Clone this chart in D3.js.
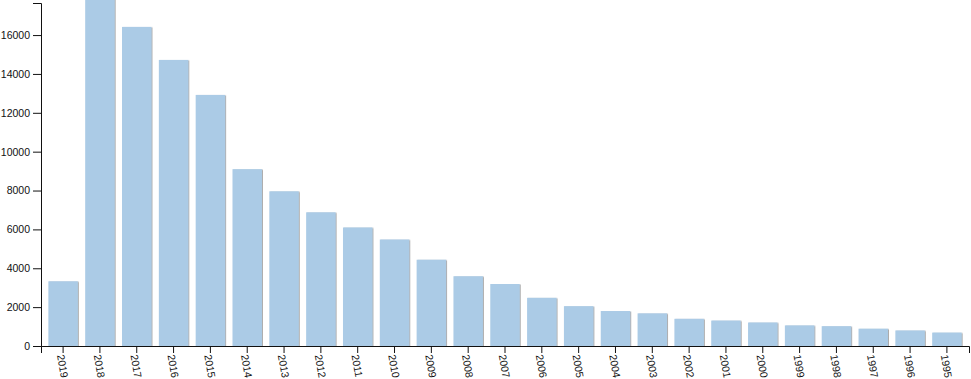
<!DOCTYPE html>
<html>
<head>
	<meta charset="utf-8">
	<script src="https://d3js.org/d3.v7.min.js"></script>
	<style>
		body { margin: 0; background: #fff; }
		.axis text { font-family: "Liberation Sans", Arial, Helvetica, sans-serif; font-size: 10.5px; fill: #111; }
		.axis path, .axis line { stroke: #111; }
	</style>
</head>
<body>
	<svg id="chart" width="971" height="379"></svg>
	<script>

	// years and counts
	const years = ["2019","2018","2017","2016","2015","2014","2013","2012","2011","2010",
	               "2009","2008","2007","2006","2005","2004","2003","2002","2001","2000",
	               "1999","1998","1997","1996","1995"];
	const counts = [3330, 17900, 16420, 14720, 12920, 9100, 7960, 6880, 6100, 5480,
	                4440, 3590, 3190, 2480, 2050, 1800, 1680, 1400, 1310, 1210,
	                1060, 1020, 890, 800, 690];
	const yMax = 17650;

	const data = years.map((y, i) => ({year: y, value: counts[i]}));

	const svg = d3.select("#chart");
	const margin = {top: 3, right: 2, bottom: 33, left: 41};
	const width = +svg.attr("width") - margin.left - margin.right,
	      height = +svg.attr("height") - margin.top - margin.bottom;

	const defs = svg.append("defs");
	const f = defs.append("filter").attr("id", "shadow")
	    .attr("x", "-10%").attr("y", "-10%").attr("width", "130%").attr("height", "130%");
	f.append("feDropShadow")
	    .attr("dx", 1).attr("dy", 0.5).attr("stdDeviation", 0.6)
	    .attr("flood-color", "#555").attr("flood-opacity", 0.5);

	const g = svg.append("g").attr("transform", `translate(${margin.left},${margin.top})`);

	const x = d3.scaleBand()
	    .domain(years)
	    .range([0, width])
	    .padding(0.2);

	const y = d3.scaleLinear()
	    .domain([0, yMax])
	    .range([height, 0]);

	// bars
	g.selectAll("rect.bar")
	  .data(data)
	  .join("rect")
	    .attr("class", "bar")
	    .attr("x", d => x(d.year))
	    .attr("width", x.bandwidth())
	    .attr("y", d => y(d.value))
	    .attr("height", d => height - y(d.value))
	    .attr("fill", "#abcbe6")
	    .attr("filter", "url(#shadow)");

	// axes
	g.append("g")
	    .attr("class", "axis")
	    .attr("transform", `translate(0,${height})`)
	    .call(d3.axisBottom(x).tickSize(7))
	  .selectAll("text")
	    .attr("transform", "rotate(80)")
	    .attr("x", 8)
	    .attr("y", 4)
	    .attr("dy", "0.35em")
	    .style("text-anchor", "start");

	g.append("g")
	    .attr("class", "axis")
	    .call(d3.axisLeft(y).ticks(9).tickFormat(d3.format("d")).tickSize(8).tickPadding(3));

	</script>
</body>
</html>
